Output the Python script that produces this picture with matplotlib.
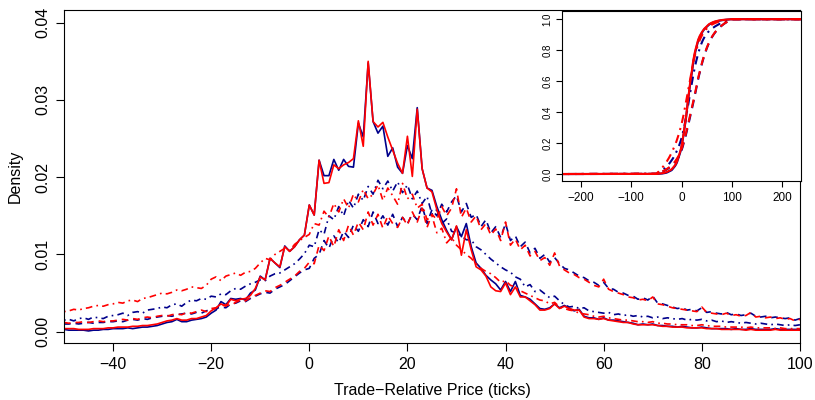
import numpy as np
import matplotlib
matplotlib.use("Agg")
import matplotlib.pyplot as plt

plt.rcParams["font.family"] = ["Liberation Sans", "DejaVu Sans"]

# price grid (ticks)
x = np.arange(-50, 101)

# solid series (peaky)
blue_solid = [
    0.0003, 0.0002, 0.0002, 0.0002, 0.0002, 0.0001, 0.0002, 0.0002, 0.0003, 0.0003,
    0.0004, 0.0004, 0.0004, 0.0005, 0.0004, 0.0005, 0.0006, 0.0006, 0.0007, 0.0008,
    0.0010, 0.0012, 0.0013, 0.0016, 0.0013, 0.0013, 0.0015, 0.0016, 0.0017, 0.0019,
    0.0024, 0.0028, 0.0039, 0.0035, 0.0043, 0.0042, 0.0043, 0.0041, 0.0050, 0.0054,
    0.0072, 0.0067, 0.0095, 0.0089, 0.0083, 0.0111, 0.0104, 0.0110, 0.0119, 0.0125,
    0.0164, 0.0151, 0.0222, 0.0202, 0.0202, 0.0223, 0.0209, 0.0223, 0.0214, 0.0213,
    0.0270, 0.0252, 0.0348, 0.0272, 0.0257, 0.0266, 0.0227, 0.0238, 0.0213, 0.0205,
    0.0241, 0.0224, 0.0290, 0.0211, 0.0186, 0.0183, 0.0162, 0.0145, 0.0131, 0.0119,
    0.0136, 0.0123, 0.0140, 0.0110, 0.0089, 0.0082, 0.0073, 0.0067, 0.0062, 0.0054,
    0.0065, 0.0052, 0.0065, 0.0047, 0.0045, 0.0042, 0.0036, 0.0030, 0.0029, 0.0031,
    0.0036, 0.0031, 0.0034, 0.0030, 0.0027, 0.0029, 0.0020, 0.0018, 0.0018, 0.0016,
    0.0018, 0.0015, 0.0015, 0.0014, 0.0013, 0.0012, 0.0011, 0.0009, 0.0010, 0.0009,
    0.0010, 0.0008, 0.0008, 0.0007, 0.0007, 0.0006, 0.0007, 0.0006, 0.0005, 0.0005,
    0.0006, 0.0005, 0.0004, 0.0004, 0.0004, 0.0004, 0.0003, 0.0004, 0.0003, 0.0003,
    0.0004, 0.0003, 0.0003, 0.0003, 0.0003, 0.0004, 0.0003, 0.0003, 0.0003, 0.0003,
    0.0003,
]
red_solid = [
    0.0004, 0.0004, 0.0004, 0.0003, 0.0003, 0.0003, 0.0004, 0.0004, 0.0004, 0.0005,
    0.0005, 0.0006, 0.0006, 0.0006, 0.0007, 0.0007, 0.0008, 0.0008, 0.0009, 0.0010,
    0.0012, 0.0014, 0.0015, 0.0017, 0.0015, 0.0015, 0.0017, 0.0017, 0.0019, 0.0021,
    0.0027, 0.0031, 0.0036, 0.0033, 0.0042, 0.0040, 0.0042, 0.0043, 0.0047, 0.0056,
    0.0071, 0.0067, 0.0095, 0.0089, 0.0084, 0.0110, 0.0104, 0.0110, 0.0119, 0.0125,
    0.0164, 0.0151, 0.0222, 0.0192, 0.0193, 0.0216, 0.0211, 0.0216, 0.0219, 0.0224,
    0.0273, 0.0240, 0.0350, 0.0272, 0.0265, 0.0271, 0.0252, 0.0235, 0.0218, 0.0205,
    0.0253, 0.0201, 0.0288, 0.0211, 0.0186, 0.0181, 0.0158, 0.0140, 0.0129, 0.0119,
    0.0137, 0.0099, 0.0132, 0.0106, 0.0084, 0.0080, 0.0072, 0.0058, 0.0053, 0.0052,
    0.0063, 0.0048, 0.0058, 0.0045, 0.0045, 0.0040, 0.0035, 0.0028, 0.0028, 0.0030,
    0.0036, 0.0030, 0.0033, 0.0030, 0.0028, 0.0028, 0.0019, 0.0017, 0.0017, 0.0016,
    0.0017, 0.0015, 0.0014, 0.0013, 0.0012, 0.0012, 0.0010, 0.0009, 0.0009, 0.0009,
    0.0009, 0.0008, 0.0007, 0.0007, 0.0006, 0.0006, 0.0006, 0.0005, 0.0005, 0.0005,
    0.0005, 0.0004, 0.0004, 0.0004, 0.0003, 0.0003, 0.0003, 0.0003, 0.0003, 0.0002,
    0.0003, 0.0002, 0.0002, 0.0002, 0.0002, 0.0003, 0.0002, 0.0002, 0.0002, 0.0002,
    0.0002,
]

# dashed series (heavier right tail)
blue_dash = [
    0.0010, 0.0010, 0.0011, 0.0010, 0.0011, 0.0012, 0.0011, 0.0012, 0.0012, 0.0013,
    0.0013, 0.0014, 0.0013, 0.0015, 0.0016, 0.0015, 0.0017, 0.0016, 0.0018, 0.0019,
    0.0020, 0.0021, 0.0020, 0.0022, 0.0023, 0.0024, 0.0023, 0.0025, 0.0024, 0.0027,
    0.0029, 0.0030, 0.0032, 0.0031, 0.0036, 0.0037, 0.0040, 0.0039, 0.0043, 0.0046,
    0.0049, 0.0051, 0.0050, 0.0055, 0.0058, 0.0061, 0.0066, 0.0071, 0.0076, 0.0080,
    0.0082, 0.0095, 0.0100, 0.0118, 0.0108, 0.0124, 0.0115, 0.0130, 0.0122, 0.0138,
    0.0130, 0.0145, 0.0136, 0.0155, 0.0140, 0.0150, 0.0138, 0.0152, 0.0136, 0.0148,
    0.0140, 0.0152, 0.0145, 0.0163, 0.0140, 0.0158, 0.0150, 0.0165, 0.0155, 0.0168,
    0.0176, 0.0155, 0.0166, 0.0148, 0.0152, 0.0136, 0.0145, 0.0128, 0.0136, 0.0122,
    0.0140, 0.0118, 0.0124, 0.0110, 0.0116, 0.0102, 0.0108, 0.0095, 0.0100, 0.0090,
    0.0096, 0.0088, 0.0082, 0.0080, 0.0076, 0.0072, 0.0070, 0.0066, 0.0064, 0.0060,
    0.0064, 0.0056, 0.0055, 0.0051, 0.0050, 0.0047, 0.0046, 0.0042, 0.0044, 0.0041,
    0.0046, 0.0037, 0.0036, 0.0034, 0.0032, 0.0030, 0.0031, 0.0028, 0.0029, 0.0027,
    0.0031, 0.0025, 0.0026, 0.0024, 0.0023, 0.0025, 0.0022, 0.0023, 0.0021, 0.0022,
    0.0024, 0.0020, 0.0019, 0.0020, 0.0018, 0.0019, 0.0018, 0.0017, 0.0018, 0.0015,
    0.0017,
]
red_dash = [
    0.0012, 0.0011, 0.0012, 0.0012, 0.0013, 0.0012, 0.0013, 0.0014, 0.0013, 0.0014,
    0.0014, 0.0015, 0.0016, 0.0015, 0.0017, 0.0016, 0.0018, 0.0019, 0.0018, 0.0020,
    0.0021, 0.0020, 0.0022, 0.0023, 0.0022, 0.0025, 0.0024, 0.0026, 0.0028, 0.0026,
    0.0030, 0.0031, 0.0033, 0.0035, 0.0034, 0.0038, 0.0041, 0.0040, 0.0044, 0.0047,
    0.0050, 0.0053, 0.0052, 0.0057, 0.0060, 0.0064, 0.0068, 0.0072, 0.0078, 0.0082,
    0.0090, 0.0088, 0.0112, 0.0105, 0.0124, 0.0110, 0.0132, 0.0118, 0.0138, 0.0125,
    0.0142, 0.0132, 0.0155, 0.0138, 0.0152, 0.0134, 0.0150, 0.0140, 0.0135, 0.0148,
    0.0138, 0.0155, 0.0142, 0.0160, 0.0135, 0.0152, 0.0145, 0.0162, 0.0150, 0.0160,
    0.0185, 0.0148, 0.0160, 0.0142, 0.0150, 0.0132, 0.0140, 0.0125, 0.0133, 0.0118,
    0.0142, 0.0112, 0.0120, 0.0106, 0.0112, 0.0098, 0.0104, 0.0092, 0.0096, 0.0086,
    0.0102, 0.0085, 0.0080, 0.0076, 0.0074, 0.0070, 0.0068, 0.0064, 0.0060, 0.0058,
    0.0068, 0.0055, 0.0052, 0.0050, 0.0048, 0.0045, 0.0044, 0.0041, 0.0042, 0.0040,
    0.0045, 0.0036, 0.0035, 0.0033, 0.0031, 0.0030, 0.0029, 0.0028, 0.0027, 0.0026,
    0.0032, 0.0025, 0.0024, 0.0023, 0.0022, 0.0024, 0.0021, 0.0022, 0.0020, 0.0021,
    0.0025, 0.0019, 0.0020, 0.0018, 0.0019, 0.0017, 0.0018, 0.0016, 0.0017, 0.0014,
    0.0016,
]

# dot-dash series (heavier left tail)
blue_dotdash = [
    0.0015, 0.0016, 0.0014, 0.0017, 0.0018, 0.0016, 0.0019, 0.0018, 0.0017, 0.0020,
    0.0021, 0.0022, 0.0024, 0.0021, 0.0025, 0.0026, 0.0024, 0.0028, 0.0029, 0.0030,
    0.0032, 0.0031, 0.0035, 0.0036, 0.0033, 0.0038, 0.0041, 0.0040, 0.0043, 0.0042,
    0.0046, 0.0045, 0.0049, 0.0048, 0.0053, 0.0056, 0.0055, 0.0059, 0.0062, 0.0064,
    0.0067, 0.0066, 0.0072, 0.0075, 0.0076, 0.0080, 0.0084, 0.0088, 0.0094, 0.0101,
    0.0112, 0.0110, 0.0132, 0.0126, 0.0150, 0.0145, 0.0162, 0.0150, 0.0170, 0.0160,
    0.0178, 0.0170, 0.0188, 0.0178, 0.0196, 0.0185, 0.0195, 0.0182, 0.0194, 0.0180,
    0.0190, 0.0172, 0.0182, 0.0166, 0.0175, 0.0152, 0.0158, 0.0140, 0.0146, 0.0130,
    0.0128, 0.0124, 0.0119, 0.0119, 0.0110, 0.0106, 0.0100, 0.0094, 0.0089, 0.0084,
    0.0080, 0.0077, 0.0071, 0.0068, 0.0058, 0.0061, 0.0052, 0.0054, 0.0049, 0.0044,
    0.0046, 0.0040, 0.0035, 0.0032, 0.0033, 0.0030, 0.0031, 0.0027, 0.0026, 0.0025,
    0.0024, 0.0025, 0.0022, 0.0023, 0.0021, 0.0022, 0.0020, 0.0021, 0.0019, 0.0020,
    0.0018, 0.0019, 0.0017, 0.0018, 0.0017, 0.0016, 0.0017, 0.0015, 0.0016, 0.0015,
    0.0016, 0.0014, 0.0015, 0.0013, 0.0014, 0.0012, 0.0013, 0.0012, 0.0011, 0.0012,
    0.0011, 0.0010, 0.0011, 0.0010, 0.0009, 0.0010, 0.0009, 0.0008, 0.0009, 0.0008,
    0.0009,
]
red_dotdash = [
    0.0026, 0.0027, 0.0029, 0.0028, 0.0030, 0.0031, 0.0033, 0.0034, 0.0033, 0.0035,
    0.0036, 0.0038, 0.0037, 0.0040, 0.0041, 0.0039, 0.0043, 0.0044, 0.0046, 0.0048,
    0.0050, 0.0049, 0.0051, 0.0054, 0.0053, 0.0055, 0.0058, 0.0057, 0.0056, 0.0060,
    0.0068, 0.0071, 0.0066, 0.0072, 0.0074, 0.0076, 0.0073, 0.0077, 0.0078, 0.0082,
    0.0089, 0.0095, 0.0093, 0.0100, 0.0104, 0.0108, 0.0105, 0.0113, 0.0118, 0.0122,
    0.0126, 0.0140, 0.0138, 0.0156, 0.0148, 0.0166, 0.0155, 0.0172, 0.0160, 0.0178,
    0.0168, 0.0184, 0.0172, 0.0178, 0.0190, 0.0170, 0.0186, 0.0176, 0.0165, 0.0192,
    0.0172, 0.0178, 0.0160, 0.0165, 0.0145, 0.0150, 0.0128, 0.0134, 0.0115, 0.0122,
    0.0112, 0.0106, 0.0100, 0.0095, 0.0088, 0.0082, 0.0078, 0.0075, 0.0070, 0.0064,
    0.0066, 0.0060, 0.0058, 0.0053, 0.0050, 0.0047, 0.0044, 0.0041, 0.0040, 0.0036,
    0.0038, 0.0032, 0.0030, 0.0028, 0.0027, 0.0024, 0.0023, 0.0022, 0.0020, 0.0019,
    0.0020, 0.0018, 0.0017, 0.0016, 0.0015, 0.0015, 0.0014, 0.0013, 0.0013, 0.0012,
    0.0013, 0.0011, 0.0011, 0.0010, 0.0010, 0.0009, 0.0009, 0.0009, 0.0008, 0.0008,
    0.0009, 0.0008, 0.0007, 0.0007, 0.0007, 0.0006, 0.0006, 0.0006, 0.0006, 0.0005,
    0.0006, 0.0005, 0.0005, 0.0005, 0.0005, 0.0004, 0.0005, 0.0004, 0.0004, 0.0004,
    0.0004,
]

BLUE = "#00008B"
RED = "#FF0000"
DASH = (0, (4, 3))
DOTDASH = (0, (1, 2.5, 4, 2.5))

series = [
    (blue_dotdash, BLUE, DOTDASH),
    (blue_dash, BLUE, DASH),
    (blue_solid, BLUE, "-"),
    (red_dotdash, RED, DOTDASH),
    (red_dash, RED, DASH),
    (red_solid, RED, "-"),
]

fig = plt.figure(figsize=(8.15, 4.0), dpi=100)
ax = fig.add_axes([0.0785, 0.1425, 0.903, 0.8325])

for vals, col, ls in series:
    ax.plot(x, vals, color=col, linestyle=ls, lw=1.2)

ax.set_xlim(-50, 100)
ax.set_ylim(-0.00146, 0.04164)
ax.set_xticks(np.arange(-40, 101, 20))
ax.set_yticks([0.0, 0.01, 0.02, 0.03, 0.04])
ax.set_yticklabels(["0.00", "0.01", "0.02", "0.03", "0.04"], rotation=90, va="center")
ax.tick_params(direction="out", length=6, width=0.8, labelsize=11.5, pad=4)
ax.set_xlabel("Trade\u2212Relative Price (ticks)", fontsize=11.5, labelpad=8)
ax.set_ylabel("Density", fontsize=11.5, labelpad=9)
for s in ax.spines.values():
    s.set_linewidth(0.8)

# inset: cumulative distributions built from the same densities
ins = fig.add_axes([0.690, 0.5475, 0.2925, 0.4258])
x_ext = np.concatenate([[-240], x, [240]])
for vals, col, ls in series:
    d = np.array(vals)
    cdf = np.cumsum(d) / d.sum()
    cdf = np.concatenate([[0.0], cdf, [1.0]])
    ins.plot(x_ext, cdf, color=col, linestyle=ls, lw=1.5)
ins.set_xlim(-237, 237)
ins.set_ylim(-0.045, 1.055)
ins.set_xticks([-200, -100, 0, 100, 200])
ins.set_yticks([0.0, 0.2, 0.4, 0.6, 0.8, 1.0])
ins.set_yticklabels(["0.0", "0.2", "0.4", "0.6", "0.8", "1.0"], rotation=90, va="center")
ins.tick_params(axis="x", direction="out", length=4, width=0.8, labelsize=8.5, pad=4)
ins.tick_params(axis="y", direction="out", length=4, width=0.8, labelsize=7, pad=3)
for s in ins.spines.values():
    s.set_linewidth(0.8)

fig.savefig("out.png", dpi=100)
